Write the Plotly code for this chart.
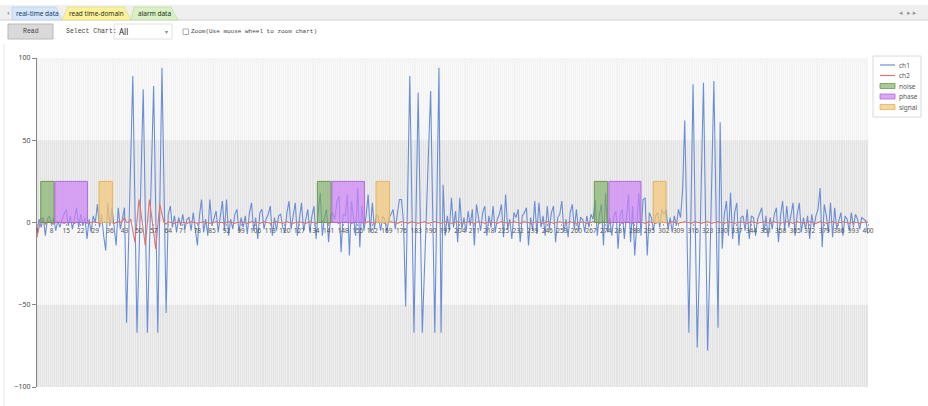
import plotly.graph_objects as go

# ---------------- data ----------------
x_vals = list(range(1, 401))

ch1 = [
    -6, 2, -3, 3, -8, 2, 4, -2, 3, -5,
    1, -3, 2, 5, 8, -2, 4, -4, 3, 9,
    -3, 5, -2, 3, -10, 2, -6, 4, 0, 11,
    -3, 5, -8, -17, 12, -2, 9, -5, -14, 9,
    -4, 2, 9, -61, -10, 40, 89, 11, -67, -20,
    30, 81, 7, -67, -15, 35, 83, 8, -67, 14,
    94, 20, -55, 5, 10, -3, 4, -6, 3, -2,
    5, -4, 2, 3, -5, 6, -3, -14, 4, 14,
    -6, 2, -8, 14, -2, 3, 7, -6, 4, 13,
    -5, 14, -8, 2, -4, 5, 8, -6, 3, -3,
    4, -7, 6, 12, -5, 3, -10, 6, 8, -4,
    2, 5, 10, -8, 3, -5, 4, 5, -3, -6,
    6, 13, -4, 5, 12, -8, 3, 12, -5, 2,
    8, -6, 4, 10, -10, 6, 18, -8, 3, 8,
    -12, 4, 6, 2, 13, 16, -18, 5, 4, 17,
    -20, 13, 3, -8, 21, -15, 10, -5, 4, 17,
    -6, 12, -4, 5, 3, -5, 4, 2, -6, 3,
    5, 8, -4, 5, 14, 14, 0, -51, 19, 89,
    11, -67, 6, 79, 6, -67, -30, 7, 43, 80,
    6, -67, 13, 94, -67, 23, -8, 4, -5, 15,
    -3, 7, -12, 15, -4, 3, -6, 7, -2, 8,
    -14, 11, 3, -5, 6, 10, -8, 4, -3, 10,
    -6, 2, 5, 11, -9, 17, -4, 2, -10, 6,
    3, 8, -12, 4, 6, 9, -14, 3, -5, 13,
    -7, 12, -3, 4, -8, 10, -4, 6, 10, -12,
    3, 5, 13, -6, 2, -9, 6, 11, -4, 8,
    -5, 3, 2, -6, 4, -3, 5, 2, 14, -8,
    4, 11, -14, 18, -6, 3, -8, 4, 7, -16,
    5, 8, -10, 4, 17, -12, 10, -20, 3, 18,
    -8, 14, 15, -20, 6, 3, -5, 4, 6, -3,
    8, 5, 8, -4, 3, -6, 4, -2, 8, 3,
    20, 62, 0, -67, 8, 84, 4, -76, -30, 28,
    85, 4, -78, -30, 28, 86, 11, -64, 61, -16,
    5, 13, -8, 18, -10, 6, 12, -14, 3, 4,
    -5, 8, -10, 4, 3, -8, 2, 6, 9, -6,
    4, -9, 3, -4, 5, 9, -12, 4, 13, -5,
    10, -3, 4, 12, -8, 5, 12, -6, 3, -4,
    4, -10, 5, -3, 4, 8, 21, -15, 11, 4,
    -6, 12, -9, 9, -4, 2, 6, -8, 4, 2,
    -5, 6, -3, 5, 2, -4, 3, 2, 1, -7,
]

ch2 = [
    -9, -2, 3, 1, -1, 0, 1, 0, -1, 0, 0.5, 0, 0, -0.5, 0, 0.5, 0, 0, -0.5, 0,
    0, 0.5, 0, 0, -0.5, 0, 0, 0.5, 0, 0, -0.5, 0, 0, 0.5, 0, 0, 0, -0.5, 0, 0.5,
    0, 1, 3, 0, 0, 2, -5, -12, 1, 14, 5, -5, -14, 0, 14, 4, -6, -16, -2, 11,
    5, 0, -1, 0.5, 0, 0, -0.5, 0, 0.5, 0, 0, 0, -0.5, 0, 0.5, 0, 0, -0.5, 0, 0,
    0.5, 0, 0, -0.5, 0, 0, 0.5, 0, 0, 0, -0.5, 0, 0.5, 0, 0, -0.5, 0, 0, 0.5, 0,
    0, -0.5, 0, 0.5, 0, 0, 0, -0.5, 0, 0.5, 0, 0, -0.5, 0, 0, 0.5, 0, 0, -0.5, 0,
    0.5, 0, 0, -0.5, 0, 0, 0.5, 0, 0, -0.5, 0, 0.5, 0, 0, -0.5, 0, 0, 0.5, 0, 0,
    -0.5, 0, 0.5, 0, 0, -0.5, 0, 0, 0.5, 0, 0, -0.5, 0, 0.5, 0, 0, 0, -0.5, 0, 0.5,
    0, 0, -0.5, 0, 0.5, 0, 0, -0.5, 0, 0, 0.5, 0, 0, -0.5, 0, 0.5, 0, 0, -0.5, 0,
    0.5, 0, 0, -0.5, 0, 0, 0.5, 0, -0.5, 0, 0, 0.5, 0, 0, -0.5, 0, 0.5, 0, 0, -0.5,
    0, 0, 0.5, 0, -0.5, 0, 0, 0.5, 0, 0, -0.5, 0, 0.5, 0, 0, -0.5, 0, 0, 0.5, 0,
    0, -0.5, 0, 0.5, 0, 0, -0.5, 0, 0, 0.5, 0, 0, -0.5, 0, 0.5, 0, 0, -0.5, 0, 0,
    0.5, 0, 0, -0.5, 0, 0.5, 0, 0, -0.5, 0, 0, 0.5, 0, 0, -0.5, 0, 0.5, 0, 0, -0.5,
    0, 0, 0.5, 0, -0.5, 0, 0, 0.5, 0, 0, -0.5, 0, 0.5, 0, 0, -0.5, 0, 0, 0.5, 0,
    0, -0.5, 0, 0.5, 0, 0, -0.5, 0, 0, 0.5, 0, 0, -0.5, 0, 0.5, 0, 0, -0.5, 0, 0,
    0.5, 0, 0, -0.5, 0, 0.5, 0, 0, -0.5, 0, 0, 0.5, 0, 0, -0.5, 0, 0.5, 0, 0, -0.5,
    0, 0, 0.5, 0, -0.5, 0, 0, 0.5, 0, 0, -0.5, 0, 0.5, 0, 0, -0.5, 0, 0, 0.5, 0,
    0, -0.5, 0, 0.5, 0, 0, -0.5, 0, 0, 0.5, 0, 0, -0.5, 0, 0.5, 0, 0, -0.5, 0, 0,
    0.5, 0, 0, -0.5, 0, 0.5, 0, 0, -0.5, 0, 0, 0.5, 0, 0, -0.5, 0, 0.5, 0, 0, -0.5,
    0, 0, 0.5, 0, -0.5, 0, 0, 0.5, 0, 0, -0.5, 0, 0.5, 0, 0, -0.5, 0, 0, 0.5, 0,
]

noise_start = [2.8, 135.6, 268.6]
noise_end = [9.2, 142.2, 275.0]
phase_start = [9.6, 142.6, 275.6]
phase_end = [25.2, 158.2, 291.0]
signal_start = [30.8, 163.8, 296.9]
signal_end = [37.2, 170.2, 303.0]
box_height = 25

y_ticks = [-100, -50, 0, 50, 100]
series_names = ["ch1", "ch2", "noise", "phase", "signal"]
tab_labels = ["real-time data", "read time-domain", "alarm data"]

assert len(ch1) == 400 and len(ch2) == 400

# ---------------- geometry helpers ----------------
W, H = 928, 406
L, R, T, B = 37, 60, 58, 19
PW = W - L - R
PH = H - T - B


def fx(p):
    return (p - L) / PW


def fy(p):
    return (H - B - p) / PH


def rect_path(starts, ends, top):
    xs, ys = [], []
    for s, e in zip(starts, ends):
        xs += [s, e, e, s, s, None]
        ys += [0, 0, top, top, 0, None]
    return xs, ys


CH1_COLOR = "#6a8fd8"
CH2_COLOR = "#dc7470"

fig = go.Figure()

fig.add_trace(go.Scatter(x=x_vals, y=ch1, mode="lines", name=series_names[0],
                         line=dict(color=CH1_COLOR, width=1.1)))
fig.add_trace(go.Scatter(x=x_vals, y=ch2, mode="lines", name=series_names[1],
                         line=dict(color=CH2_COLOR, width=1.1)))

box_specs = [
    (series_names[2], noise_start, noise_end, "rgba(120,170,90,0.62)", "#6a9a4e"),
    (series_names[3], phase_start, phase_end, "rgba(205,130,245,0.70)", "#b06ad8"),
    (series_names[4], signal_start, signal_end, "rgba(245,200,120,0.72)", "#e3b25e"),
]
for name, s, e, fc, lc in box_specs:
    bx, by = rect_path(s, e, box_height)
    fig.add_trace(go.Scatter(x=bx, y=by, mode="lines", name=name, fill="toself",
                             fillcolor=fc, line=dict(color=lc, width=1)))

shapes = []
# background bands
bands = [(100, 50, "#f3f3f3"), (50, 0, "#e3e3e3"), (0, -50, "#f3f3f3"), (-50, -100, "#e3e3e3")]
for y0, y1, c in bands:
    shapes.append(dict(type="rect", xref="x", yref="y", x0=1, x1=400, y0=y1, y1=y0,
                       fillcolor=c, line=dict(width=0), layer="below"))

# UI: tab bar
shapes.append(dict(type="rect", xref="paper", yref="paper", x0=fx(0), x1=fx(928),
                   y0=fy(20), y1=fy(5), fillcolor="#efefef", line=dict(width=0)))
shapes.append(dict(type="line", xref="paper", yref="paper", x0=fx(0), x1=fx(928),
                   y0=fy(20), y1=fy(20), line=dict(color="#d0d0d0", width=1)))


def poly(pts, fill, line):
    d = "M " + " L ".join(f"{fx(a)},{fy(b)}" for a, b in pts) + " Z"
    return dict(type="path", xref="paper", yref="paper", path=d, fillcolor=fill,
                line=dict(color=line, width=0.6))


shapes.append(poly([(12, 20), (12, 7), (56, 7), (62, 20)], "#d4e6f7", "#b8cfe6"))
shapes.append(poly([(62, 20), (68, 7), (124, 7), (131, 20)], "#fbf29a", "#e0d480"))
shapes.append(poly([(131, 20), (134, 7), (171, 7), (178, 20)], "#d8f0c2", "#bcd9a5"))

# button, dropdown, checkbox
shapes.append(dict(type="rect", xref="paper", yref="paper", x0=fx(8), x1=fx(53),
                   y0=fy(39), y1=fy(24), fillcolor="#d9d9d9", line=dict(color="#b8b8b8", width=1)))
shapes.append(dict(type="rect", xref="paper", yref="paper", x0=fx(114), x1=fx(172),
                   y0=fy(39), y1=fy(24), fillcolor="#ffffff", line=dict(color="#e2e2e2", width=1)))
shapes.append(dict(type="rect", xref="paper", yref="paper", x0=fx(183), x1=fx(188.5),
                   y0=fy(34.5), y1=fy(29), fillcolor="#ffffff", line=dict(color="#9a9a9a", width=0.8)))
# container left border
shapes.append(dict(type="line", xref="paper", yref="paper", x0=fx(4), x1=fx(4),
                   y0=fy(406), y1=fy(44), line=dict(color="#e6e6e6", width=1)))

annotations = []


def txt(t, x, y, size=7, color="#333", family="Noto Sans", anchor="left"):
    annotations.append(dict(text=t, xref="paper", yref="paper", x=fx(x), y=fy(y),
                            xanchor=anchor, yanchor="middle", showarrow=False,
                            font=dict(size=size, color=color, family=family)))


txt(tab_labels[0], 37, 13.5, 6.5, "#203a70", anchor="center")
txt(tab_labels[1], 96, 13.5, 6.5, "#303020", anchor="center")
txt(tab_labels[2], 154, 13.5, 6.5, "#203020", anchor="center")
txt("⏴", 5, 13, 5, "#999", family="DejaVu Sans")
txt("◂  ▸ ▸", 897, 13, 7, "#999", family="DejaVu Sans")
txt("Read", 31, 31.5, 6.5, "#444", family="Liberation Mono", anchor="center")
txt("Select Chart:", 64, 31.5, 6.5, "#444", family="Liberation Mono")
txt("All", 117, 31.5, 8, "#222", family="Noto Sans")
txt("▾", 166, 31.5, 6, "#888", family="DejaVu Sans", anchor="center")
txt("Zoom(Use mouse wheel to zoom chart)", 188.5, 31.5, 6, "#444", family="Liberation Mono")

# legend panel (drawn to match the compact legend of the source UI)
shapes.append(dict(type="rect", xref="paper", yref="paper", x0=fx(873), x1=fx(921),
                   y0=fy(117), y1=fy(56), fillcolor="white", line=dict(color="#dadada", width=1)))
legend_rows = [65, 75.5, 86, 96.5, 107]
legend_styles = [("line", CH1_COLOR, None), ("line", CH2_COLOR, None)] + \
    [("rect", spec[3], spec[4]) for spec in box_specs]
for name, yy, (kind, c, lc) in zip(series_names, legend_rows, legend_styles):
    if kind == "line":
        shapes.append(dict(type="line", xref="paper", yref="paper", x0=fx(880), x1=fx(895),
                           y0=fy(yy), y1=fy(yy), line=dict(color=c, width=1.2)))
    else:
        shapes.append(dict(type="rect", xref="paper", yref="paper", x0=fx(880), x1=fx(895),
                           y0=fy(yy + 2.5), y1=fy(yy - 2.5), fillcolor=c, line=dict(color=lc, width=0.8)))
    txt(name, 897, yy, 6.5, "#555")

fig.update_layout(
    width=W, height=H,
    margin=dict(l=L, r=R, t=T, b=B, autoexpand=False),
    paper_bgcolor="white",
    plot_bgcolor="#f3f3f3",
    shapes=shapes,
    annotations=annotations,
    showlegend=False,
    hovermode=False,
)

fig.update_xaxes(
    range=[1, 400], anchor="free", position=0.5,
    tickmode="linear", tick0=1, dtick=7,
    showgrid=True, gridcolor="rgba(255,255,255,0.4)", gridwidth=1,
    minor=dict(dtick=1, tick0=1, showgrid=True, gridcolor="rgba(255,255,255,0.4)", gridwidth=1),
    showline=False,
    ticks="outside", ticklen=2, tickcolor="#aaa",
    tickfont=dict(size=6.5, color="#555", family="Noto Sans"),
    zeroline=False, fixedrange=True,
)
fig.update_yaxes(
    range=[-100, 100], tickmode="array", tickvals=y_ticks,
    showgrid=False, zeroline=False,
    showline=True, linecolor="#888", linewidth=1,
    ticks="outside", ticklen=4, tickcolor="#888",
    tickfont=dict(size=7, color="#444", family="Noto Sans"),
    fixedrange=True,
)

fig.write_html(
    "out.html",
    config={"displayModeBar": False},
    post_script="document.body.style.margin='0px';document.body.style.overflow='hidden';",
)
